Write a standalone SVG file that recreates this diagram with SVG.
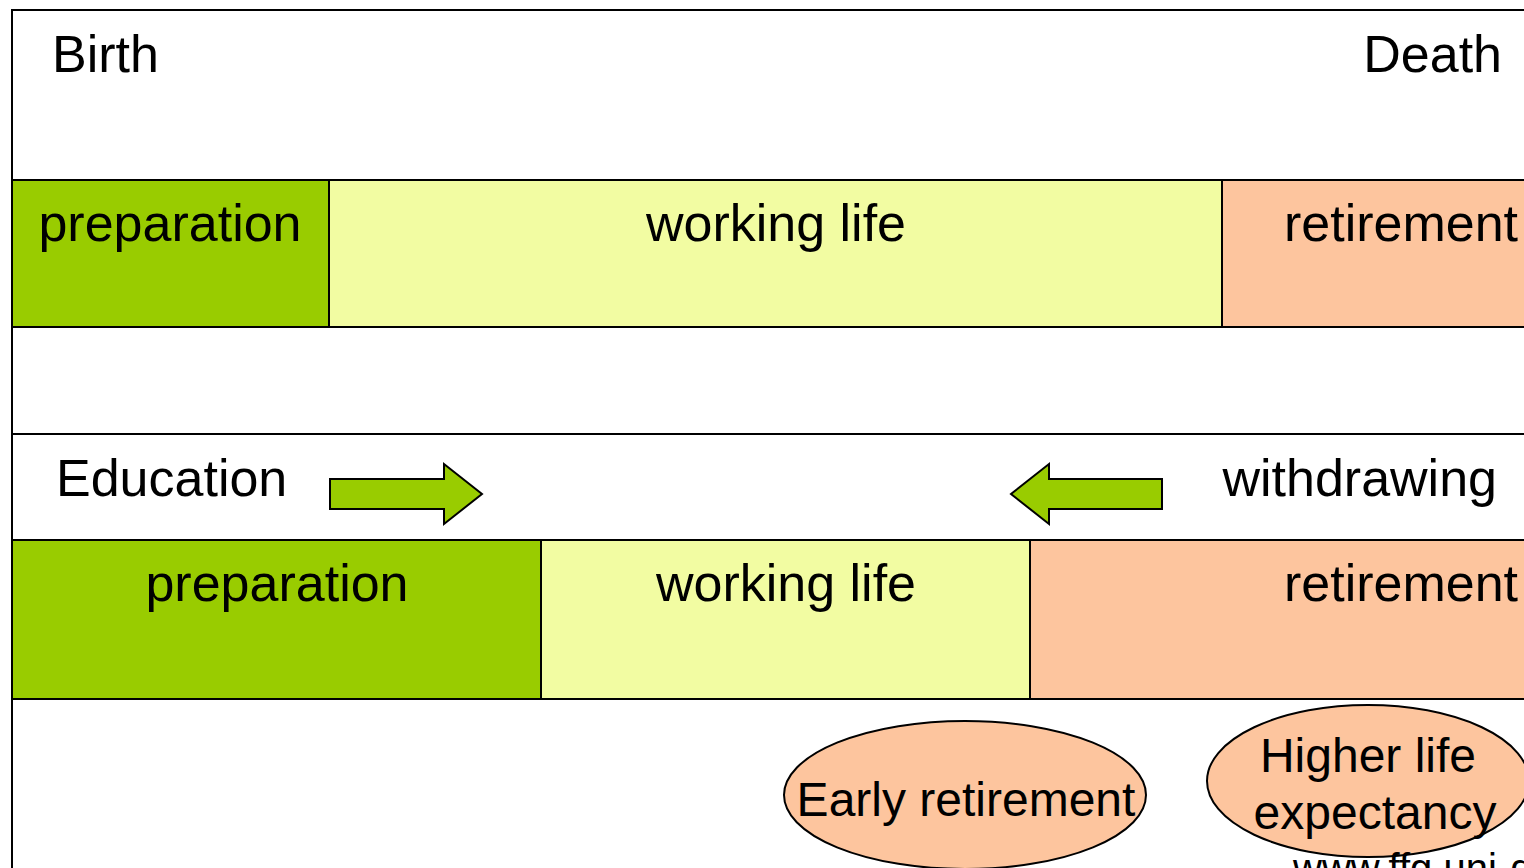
<svg xmlns="http://www.w3.org/2000/svg" width="1524" height="868" viewBox="0 0 1524 868">
<style>
text{font-family:"Liberation Sans",Arial,sans-serif;fill:#000}
.big{font-size:52px}
.mid{font-size:48px}
.ln{stroke:#000;stroke-width:2;fill:none}
.bx{stroke:#000;stroke-width:2}
.g{fill:#99CC00}
.y{fill:#F2FCA2}
.p{fill:#FDC59E}
</style>
<rect width="1524" height="868" fill="#fff"/>
<g id="frame">
<path class="ln" d="M12 868V10H1526"/>
<path class="ln" d="M12 434H1526"/>
</g>
<g id="labels">
<text class="big" x="52" y="72">Birth</text>
<text class="big" x="1502" y="72" text-anchor="end">Death</text>
<text class="big" x="56" y="496">Education</text>
<text class="big" x="1497" y="496" text-anchor="end">withdrawing</text>
</g>
<g id="top-preparation"><rect class="bx g" x="12" y="180" width="317" height="147"/><text class="big" x="170" y="241" text-anchor="middle">preparation</text></g>
<g id="top-working"><rect class="bx y" x="329" y="180" width="893" height="147"/><text class="big" x="776" y="241" text-anchor="middle">working life</text></g>
<g id="top-retirement"><rect class="bx p" x="1222" y="180" width="310" height="147"/><text class="big" x="1401" y="241" text-anchor="middle">retirement</text></g>
<g id="bottom-preparation"><rect class="bx g" x="12" y="540" width="529" height="159"/><text class="big" x="277" y="601" text-anchor="middle">preparation</text></g>
<g id="bottom-working"><rect class="bx y" x="541" y="540" width="489" height="159"/><text class="big" x="786" y="601" text-anchor="middle">working life</text></g>
<g id="bottom-retirement"><rect class="bx p" x="1030" y="540" width="502" height="159"/><text class="big" x="1401" y="601" text-anchor="middle">retirement</text></g>
<g id="connectors">
<path class="bx g" d="M330 479H444V464L482 494L444 524V509H330Z"/>
<path class="bx g" d="M1162 479H1049V464L1011 494L1049 524V509H1162Z"/>
</g>
<g id="early-retirement"><ellipse class="bx p" cx="965" cy="795" rx="181" ry="74"/><text class="mid" x="966" y="816" text-anchor="middle">Early retirement</text></g>
<g id="higher-life"><ellipse class="bx p" cx="1368" cy="781" rx="161" ry="76"/><text class="mid" x="1368" y="772" text-anchor="middle">Higher life</text><text class="mid" x="1375" y="829" text-anchor="middle">expectancy</text></g>
<text x="1293" y="882" style="font-size:40px">www.ffg.uni-dortmund.de</text>
</svg>
